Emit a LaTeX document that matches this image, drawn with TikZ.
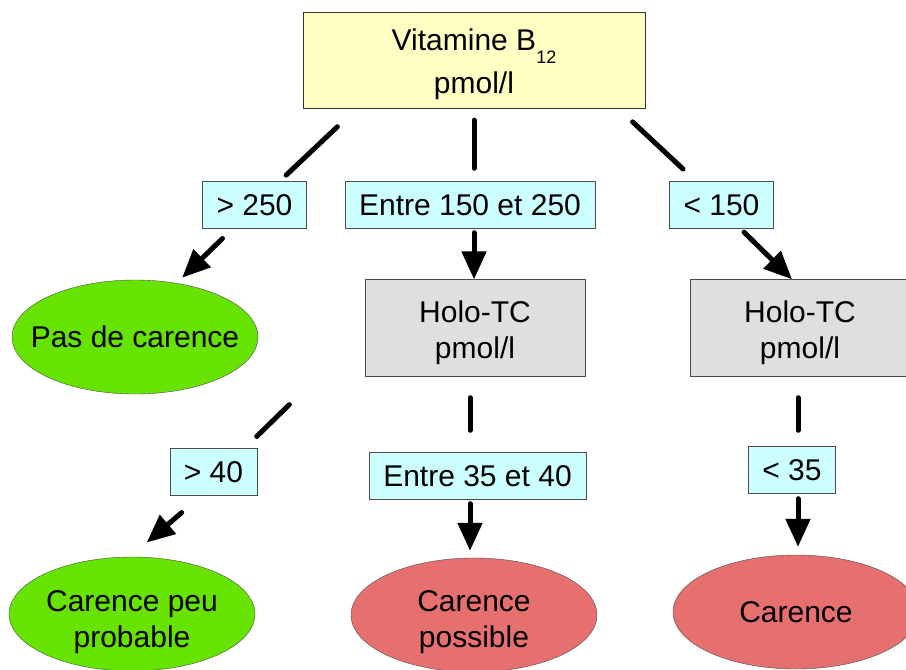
\documentclass[tikz,border=0pt]{standalone}
\usepackage{fontspec}
\setmainfont{Liberation Sans}
\usetikzlibrary{arrows.meta, positioning, shapes.geometric, calc}

\definecolor{jaune}{HTML}{FFFFC4}
\definecolor{cyanclair}{HTML}{CCFFFF}
\definecolor{grisclair}{HTML}{DFDFDF}
\definecolor{vert}{HTML}{66E300}
\definecolor{rouge}{HTML}{E67070}

% hauteur ajoutee a la premiere ligne
\newcommand{\haut}[1]{\rule{0pt}{#1}}

\begin{document}
\begin{tikzpicture}[x=1pt, y=-1pt]
	\tikzset{every node/.style={font=\fontsize{30}{36}\selectfont, align=center},
		titre/.style={draw=black!80, fill=jaune, minimum width=342pt, minimum height=96pt},
		seuil/.style={draw=black!70, fill=cyanclair, minimum height=47pt, inner xsep=14pt, inner ysep=0pt},
		dosage/.style={draw=black!70, fill=grisclair, minimum width=220pt, minimum height=97pt},
		issue/.style={ellipse, draw=black!70, minimum width=246pt, minimum height=114pt, inner xsep=-22pt, inner ysep=-10pt},
		trait/.style={line width=5pt, line cap=round},
		fleche/.style={trait, -{Triangle[length=28pt, width=24pt]}} }

	\useasboundingbox (0,0) rectangle (906,670);

	% premier dosage
	\node[titre] (b12) at (474,60) {\haut{31pt}Vitamine B\raisebox{-13pt}{\fontsize{18}{18}\selectfont 12}\\[7pt]pmol/l};
	\node[seuil] (l250) at (254.5,205) {> 250};
	\node[seuil] (lmid) at (470,205) {Entre 150 et 250};
	\node[seuil] (l150) at (721.5,205) {< 150};

	\node[issue, fill=vert] (pdc) at (135,337) {Pas de carence};
	\node[dosage] (hm) at (475,328) {\haut{31pt}Holo-TC\\pmol/l};
	\node[dosage] (hr) at (800,328) {\haut{31pt}Holo-TC\\pmol/l};

	% second dosage
	\node[seuil] (l40) at (213.5,472) {> 40};
	\node[seuil] (l3540) at (477.5,476) {Entre 35 et 40};
	\node[seuil] (l35) at (792,470) {< 35};

	\node[issue, fill=vert] (cpp) at (132,614) {\haut{37pt}Carence peu\\probable};
	\node[issue, fill=rouge] (cp) at (474,615) {\haut{36pt}Carence\\possible};
	\node[issue, fill=rouge] (cr) at (796,612) {Carence};

	\draw[trait, shorten <=27pt, shorten >=9pt] ($(b12.south)+(-117,0)$) -- (l250);
	\draw[trait, shorten <=12pt, shorten >=13pt] (b12.south) -- (b12.south |- lmid.north);
	\draw[trait, shorten <=20pt, shorten >=18pt] ($(b12.south)+(144,0)$) -- (l150);
	\draw[fleche, shorten <=14pt, shorten >=3pt] ($(l250.south)+(-22,0)$) -- ($(pdc.north)+(45,0)$);
	\draw[fleche, shorten <=4pt] (lmid.south -| b12.south) -- (hm.north -| b12.south);
	\draw[fleche, shorten <=5pt] ($(l150.south)+(19,0)$) -- ($(hr.north)+(-8,0)$);

	\draw[trait, shorten <=40pt, shorten >=17pt] ($(hm.south)+(-157,0)$) -- ($(l40.north)+(31,0)$);
	\draw[fleche, shorten <=26pt, shorten >=22pt] ($(l40.south)+(-12,0)$) -- ($(cpp.north)+(-2,0)$);
	\draw[trait, shorten <=21pt, shorten >=22pt] ([xshift=-5pt]hm.south) -- ([xshift=-5pt]hm.south |- l3540.north);
	\draw[fleche, shorten <=4pt, shorten >=7pt] ([xshift=-5pt]hm.south |- l3540.south) -- ([xshift=-5pt]hm.south |- cp.north);
	\draw[trait, shorten <=21pt, shorten >=16pt] ([xshift=-2pt]hr.south) -- ([xshift=-2pt]hr.south |- l35.north);
	\draw[fleche, shorten <=5pt, shorten >=8pt] ([xshift=-2pt]hr.south |- l35.south) -- ([xshift=-2pt]hr.south |- cr.north);
\end{tikzpicture}
\end{document}
